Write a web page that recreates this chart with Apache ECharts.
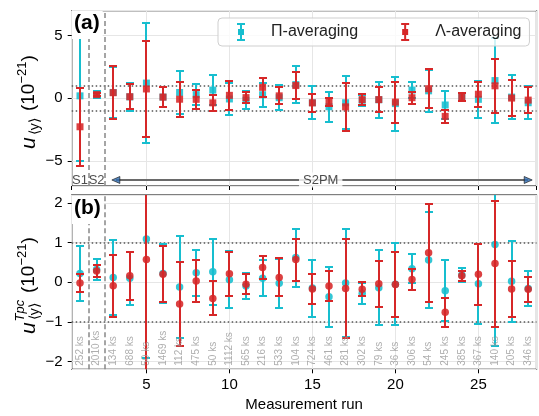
<!DOCTYPE html>
<html><head><meta charset="utf-8">
<script src="https://cdn.jsdelivr.net/npm/echarts@6/dist/echarts.min.js"></script>
<style>html,body{margin:0;padding:0;background:#fff}#c{width:539px;height:416px}</style>
</head><body><div id="c"></div>
<script>
// ---------------- data ----------------
const runs = [1,2,3,4,5,6,7,8,9,10,11,12,13,14,15,16,17,18,19,20,21,22,23,24,25,26,27,28];
const durations = ['252 ks','2010 ks','134 ks','688 ks','50 ks','1469 ks','112 ks','475 ks','50 ks','1112 ks','565 ks','216 ks','533 ks','104 ks','724 ks','461 ks','281 ks','302 ks','79 ks','36 ks','306 ks','54 ks','245 ks','385 ks','367 ks','140 ks','205 ks','346 ks'];

// panel (a): u_<y>
const piA    = [0.2,0.33,0.47,0.12,1.22,0.1,0.47,0.3,0.66,-0.05,-0.15,0.29,0.05,1.1,-0.35,-0.67,-0.35,-0.15,-0.11,-0.42,0.66,0.6,-0.53,0.1,-0.08,1.42,0.1,-0.35];
const piAErr = [5.2,0.27,2.03,1.13,4.76,0.78,1.72,0.83,1.17,1.28,0.7,0.96,0.98,1.5,1.33,1.2,2.13,0.45,1.44,2.15,0.67,1.67,1.14,0.3,1.47,3.37,1.77,1.3];
const laA    = [-2.27,0.3,0.45,0.13,0.75,0.1,-0.07,-0.08,-0.36,0.24,0.06,0.88,0.2,1.02,-0.36,-0.3,-0.68,-0.1,-0.1,-0.3,0.05,0.77,-1.44,0.13,0.33,1.0,0.02,-0.14];
const laAErr = [3.12,0.15,2.13,1.01,3.8,0.78,1.4,0.75,0.63,1.17,0.47,0.77,0.67,1.1,0.71,0.35,1.93,0.45,0.98,1.63,0.48,1.57,0.51,0.32,1.0,2.15,1.44,1.02];

// panel (b): u^Tpc_<y>
const piB    = [0.22,0.32,0.12,0.1,1.09,0.22,-0.12,0.24,0.26,0.06,-0.1,0.1,-0.03,0.62,-0.15,-0.37,-0.02,-0.28,-0.14,-0.05,0.34,0.56,-0.22,0.18,-0.04,0.95,0.02,-0.16];
const piBErr = [0.7,0.27,0.95,0.67,3.0,0.75,1.28,0.58,0.83,0.72,0.33,0.45,0.61,0.73,0.72,0.75,1.37,0.27,0.94,1.03,0.37,1.22,0.77,0.17,1.01,2.55,1.02,0.44];
const laB    = [-0.02,0.28,-0.09,0.16,0.57,0.2,-0.55,0.03,-0.41,0.21,-0.05,0.37,0.12,0.57,-0.17,-0.1,-0.16,-0.18,-0.04,-0.06,0.07,0.74,-0.76,0.16,0.2,0.47,-0.17,-0.18];
const laBErr = [0.23,0.16,0.78,0.6,3.5,0.7,1.05,0.52,0.43,0.55,0.26,0.3,0.48,0.53,0.38,0.37,1.25,0.18,0.58,0.82,0.26,1.24,0.36,0.12,0.77,1.59,0.71,0.32];

// reference lines & annotations
const boundaryRuns = [1.5, 2.5];
const bandLevels = [-1, 1];
const segLabels = ['S1','S2','S2PM'];
const segLabelRuns = [1, 2, 15.5];
const segY = -6.52;
const arrowEnds = [3.16, 28.0];
const durLabelY = -2.11;

// ---------------- style ----------------
const FONT = '"Liberation Sans", Arial, Helvetica, sans-serif';
const PI_COLOR = '#17becf', LA_COLOR = '#d62728';
const ICON = 'path://M0,0L0.01,0L0,0.01Z M38,18L37.99,18L38,17.99Z M9,0H17V2H9Z M12,0H14V18H12Z M9,16H17V18H9Z M10,6H16V12H10Z';

function errSeries(name, idx, centers, errs, color, z) {
  return {
    type: 'custom', name, xAxisIndex: idx, yAxisIndex: idx, clip: true, z, silent: true,
    data: runs.map((r, i) => [r, centers[i] - errs[i], centers[i] + errs[i]]),
    encode: { x: 0, y: [1, 2] },
    renderItem: (params, api) => {
      const lo = api.coord([api.value(0), api.value(1)]);
      const hi = api.coord([api.value(0), api.value(2)]);
      const x = Math.round(lo[0]);
      const yl = Math.round(lo[1]), yh = Math.round(hi[1]);
      const hw = 4;
      const st = { stroke: color, lineWidth: 2, fill: null };
      return { type: 'group', children: [
        { type: 'line', shape: { x1: x, y1: yl, x2: x, y2: yh }, style: st },
        { type: 'line', shape: { x1: x - hw, y1: yl, x2: x + hw, y2: yl }, style: st },
        { type: 'line', shape: { x1: x - hw, y1: yh, x2: x + hw, y2: yh }, style: st }
      ]};
    }
  };
}
function markSeries(name, idx, centers, color, symbol, z) {
  return {
    type: 'scatter', name, xAxisIndex: idx, yAxisIndex: idx, z, silent: true,
    symbol, symbolSize: symbol === 'circle' ? 7.5 : 7,
    itemStyle: { color, opacity: 0.88 },
    data: runs.map((r, i) => [r, centers[i]])
  };
}
function refSeries(idx) {
  return {
    type: 'scatter', name: 'ref' + idx, xAxisIndex: idx, yAxisIndex: idx, z: 1, silent: true, data: [],
    markLine: {
      silent: true, symbol: 'none', z: 1, animation: false, label: { show: false },
      data: bandLevels.map(v => ({ yAxis: v, lineStyle: { type: [1.5, 2.5], color: '#555', width: 1.5 }, label: { show: false } }))
        .concat(boundaryRuns.map(v => ({ xAxis: v, lineStyle: { type: [5, 3], color: '#888', width: 1.5 }, label: { show: false } })))
    }
  };
}
function xAxisDef(gi, labels) {
  const ax = {
    gridIndex: gi, type: 'value', min: 0.5, max: 28.5, splitNumber: 5,
    axisLine: { show: false, onZero: false },
    axisTick: { show: true, length: 4, lineStyle: { color: '#000' } },
    axisLabel: { show: labels, fontSize: 15, color: '#000', margin: 8, fontFamily: FONT, showMinLabel: false, showMaxLabel: false },
    splitLine: { show: true, lineStyle: { color: '#e6e6e6', width: 1 } }
  };
  if (labels) Object.assign(ax, { name: 'Measurement run', nameLocation: 'middle', nameGap: 28,
    nameTextStyle: { fontSize: 15, color: '#000', fontFamily: FONT } });
  return ax;
}
function yAxisDef(gi, mn, mx, sn) {
  return {
    gridIndex: gi, type: 'value', min: mn, max: mx, splitNumber: sn,
    axisLine: { show: false, onZero: false },
    axisTick: { show: true, length: 4, lineStyle: { color: '#000' } },
    axisLabel: { fontSize: 15, color: '#000', margin: 9, fontFamily: FONT, showMinLabel: false, showMaxLabel: false,
      formatter: v => String(v).replace('-', '\u2212') },
    splitLine: { show: true, lineStyle: { color: '#e6e6e6', width: 1 } }
  };
}
const richBase = {
  u: { font: 'italic 21px ' + FONT, fill: '#000', lineHeight: 26, verticalAlign: 'middle' },
  n: { font: '19px ' + FONT, fill: '#000', lineHeight: 26, verticalAlign: 'middle' },
  sub: { font: '14px ' + FONT, fill: '#000', verticalAlign: 'bottom', lineHeight: 15, padding: [0, 2, 0, 2] },
  subp: { font: '14px ' + FONT, fill: '#000', verticalAlign: 'bottom', lineHeight: 15, padding: [0, 5, 0, 2] },
  sup: { font: '13px ' + FONT, fill: '#000', verticalAlign: 'top', lineHeight: 14 }
};
const panelTag = (t, top) => ({ text: t, left: 72, top, padding: [2, 3, 5, 2], z: 15, backgroundColor: '#fff',
  textStyle: { fontSize: 21, fontWeight: 'bold', color: '#000', fontFamily: FONT } });

const option = {
  animation: false,
  textStyle: { fontFamily: FONT },
  title: [panelTag('(a)', 11), panelTag('(b)', 196)],
  legend: {
    left: 218, top: 18, padding: [5, 8, 5, 10], itemGap: 34, itemWidth: 38, itemHeight: 18,
    borderColor: '#cfcfcf', borderWidth: 1, borderRadius: 4, backgroundColor: 'rgba(255,255,255,0.8)',
    textStyle: { fontSize: 16, color: '#222', fontFamily: FONT }, selectedMode: false, z: 20,
    data: [
      { name: 'Π-averaging', icon: ICON, itemStyle: { color: PI_COLOR, borderWidth: 0 } },
      { name: 'Λ-averaging', icon: ICON, itemStyle: { color: LA_COLOR, borderWidth: 0 } }
    ]
  },
  grid: [
    { left: 71.7, top: 10.7, right: 2.5, height: 175.3, show: true, borderColor: '#000', borderWidth: 1.2, backgroundColor: 'transparent' },
    { left: 71.7, top: 195, right: 2.5, height: 174.3, show: true, borderColor: '#000', borderWidth: 1.2, backgroundColor: 'transparent' }
  ],
  xAxis: [xAxisDef(0, false), xAxisDef(1, true)],
  yAxis: [yAxisDef(0, -7, 7, 3), yAxisDef(1, -2.2, 2.2, 4)],
  series: [
    refSeries(0), refSeries(1),
    // panel a
    errSeries('Π-averaging', 0, piA, piAErr, PI_COLOR, 3),
    markSeries('Π-averaging', 0, piA, PI_COLOR, 'rect', 4),
    errSeries('Λ-averaging', 0, laA, laAErr, LA_COLOR, 5),
    markSeries('Λ-averaging', 0, laA, LA_COLOR, 'rect', 6),
    // panel b
    errSeries('Π-averaging', 1, piB, piBErr, PI_COLOR, 3),
    markSeries('Π-averaging', 1, piB, PI_COLOR, 'circle', 4),
    errSeries('Λ-averaging', 1, laB, laBErr, LA_COLOR, 5),
    markSeries('Λ-averaging', 1, laB, LA_COLOR, 'circle', 6),
    // duration labels
    {
      type: 'scatter', name: 'dur', xAxisIndex: 1, yAxisIndex: 1, z: 7, silent: true, symbolSize: 1,
      itemStyle: { color: 'transparent' },
      data: runs.map((r, i) => [r, durLabelY, durations[i]]),
      label: { show: true, position: 'inside', rotate: 90, align: 'left', verticalAlign: 'middle',
        formatter: p => p.value[2], color: '#9a9a9a', fontSize: 10, fontFamily: FONT }
    },
    // segment annotations
    {
      type: 'scatter', name: 'seg', xAxisIndex: 0, yAxisIndex: 0, z: 10, silent: true, symbolSize: 1,
      itemStyle: { color: 'transparent' },
      data: segLabels.map((s, i) => ({ value: [segLabelRuns[i], segY, s],
        label: s === 'S2PM' ? { backgroundColor: '#fff', padding: [1, 4] } : {} })),
      label: { show: true, position: 'inside', formatter: p => p.value[2], color: '#222', fontSize: 13, fontFamily: FONT },
      markLine: { silent: true, symbol: 'none', z: 8, animation: false, label: { show: false },
        data: [[{ coord: [arrowEnds[0], segY] }, { coord: [arrowEnds[1], segY] }]],
        lineStyle: { color: '#6a6a6a', width: 2, type: 'solid' } }
    },
    {
      type: 'scatter', name: 'arrowheads', xAxisIndex: 0, yAxisIndex: 0, z: 11, silent: true,
      symbol: 'triangle', symbolSize: [7, 8],
      itemStyle: { color: '#2f6db3', borderColor: '#111', borderWidth: 0.8 },
      data: [{ value: [arrowEnds[0], segY], symbolRotate: 90 }, { value: [arrowEnds[1], segY], symbolRotate: -90 }]
    }
  ],
  graphic: [
    { type: 'text', x: 29, y: 149, rotation: Math.PI / 2, z: 20,
      style: { text: '{u|u}{sub|⟨y⟩}{n| (10}{sup|−21}{n|)}', rich: richBase, align: 'left', verticalAlign: 'middle' } },
    { type: 'group', x: 29, y: 334, rotation: Math.PI / 2, z: 20, children: [
      { type: 'text', x: 0, y: 0,
        style: { text: '{u|u}{subp|⟨y⟩}{n| (10}{sup|−21}{n|)}', rich: richBase, align: 'left', verticalAlign: 'middle' } },
      { type: 'text', x: 12.5, y: -8.5,
        style: { text: 'Tpc', font: 'italic 13px ' + FONT, fill: '#000', align: 'left', verticalAlign: 'middle' } }
    ]}
  ]
};
const chart = echarts.init(document.getElementById('c'), null, { renderer: 'canvas' });
chart.setOption(option);
</script></body></html>
